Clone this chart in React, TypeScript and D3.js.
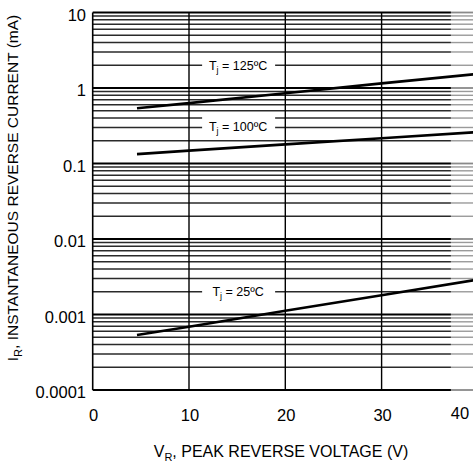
import { useEffect } from 'react';
import * as d3 from 'd3';

// reverse voltage (V) at which each curve was read
const voltage = [4.6, 10, 20, 30, 40];
// instantaneous reverse current (mA)
const current125 = [0.54, 0.63, 0.85, 1.15, 1.54];
const current100 = [0.133, 0.148, 0.179, 0.216, 0.261];
const current25 = [0.000535, 0.00069, 0.00112, 0.0018, 0.0029];

const curveLabels = ['125', '100', '25'];
const labelVoltage = [15.1, 15.1, 15.1];
const labelCurrent = [2.15, 0.33, 0.00215];

const xTicks = [0, 10, 20, 30, 40];
const decades = [0.0001, 0.001, 0.01, 0.1, 1, 10];
const decadeLabels = ['0.0001', '0.001', '0.01', '0.1', '1', '10'];

const W = 473;
const H = 463;
const font = 'Arial, "Liberation Sans", Helvetica, sans-serif';

export default function App() {
  useEffect(() => {
    document.body.style.margin = '0';
  }, []);

  const x = d3.scaleLinear().domain([0, 40]).range([92.7, 477.9]);
  const y = d3.scaleLog().domain([0.0001, 10]).range([390, 12.5]);

  const minor: number[] = [];
  decades.slice(0, -1).forEach((d) => {
    for (let k = 2; k <= 9; k++) minor.push(k * d);
  });

  const line = d3
    .line<number>()
    .x((_, i) => x(voltage[i]))
    .y((d) => y(d));

  const series = [current125, current100, current25];
  const fadeX = x(37.2);

  return (
    <svg width={W} height={H} style={{ display: 'block', background: '#fff' }} fontFamily={font}>
      {/* horizontal grid */}
      {minor.map((v) => (
        <g key={'m' + v}>
          <line x1={x(0)} x2={fadeX} y1={y(v)} y2={y(v)} stroke="#2a2a2a" strokeWidth={1.4} />
          <line x1={fadeX} x2={W} y1={y(v)} y2={y(v)} stroke="#9a9a9a" strokeWidth={1.4} />
        </g>
      ))}
      {decades.map((v) => (
        <g key={'d' + v}>
          <line x1={x(0)} x2={fadeX} y1={y(v)} y2={y(v)} stroke="#000" strokeWidth={1.8} />
          <line x1={fadeX} x2={W} y1={y(v)} y2={y(v)} stroke="#8a8a8a" strokeWidth={1.8} />
        </g>
      ))}
      {/* vertical grid */}
      {xTicks.map((t) => (
        <line
          key={'v' + t}
          x1={x(t)}
          x2={x(t)}
          y1={y(10)}
          y2={y(0.0001)}
          stroke="#000"
          strokeWidth={t === 0 ? 1.6 : 1.4}
        />
      ))}

      {/* curve labels with white boxes */}
      {curveLabels.map((c, i) => {
        const cx = x(labelVoltage[i]);
        const cy = y(labelCurrent[i]);
        return (
          <g key={'l' + c}>
            <rect x={cx - 36} y={cy - 9} width={73} height={20} fill="#fff" />
            <text x={cx} y={cy + 7} textAnchor="middle" fontSize={12.5} fill="#000">
              T
              <tspan fontSize={9} dy={3}>j</tspan>
              <tspan dy={-3}>{` = ${c}ºC`}</tspan>
            </text>
          </g>
        );
      })}

      {/* curves */}
      {series.map((s, i) => (
        <path key={'c' + i} d={line(s) || ''} fill="none" stroke="#000" strokeWidth={2.6} />
      ))}

      {/* y tick labels */}
      {decades.map((v, i) => (
        <text
          key={'yt' + v}
          x={86}
          y={y(v) + 4}
          textAnchor="end"
          dominantBaseline="middle"
          fontSize={16.5}
          fill="#000"
        >
          {decadeLabels[i]}
        </text>
      ))}

      {/* x tick labels */}
      {xTicks.map((t) => (
        <text
          key={'xt' + t}
          x={t === 40 ? x(t) - 18 : x(t) + 1}
          y={t === 40 ? 419 : 421}
          textAnchor="middle"
          fontSize={16.5}
          fill="#000"
        >
          {t}
        </text>
      ))}

      {/* axis titles */}
      <text x={281} y={457} textAnchor="middle" fontSize={16} fill="#000">
        V<tspan fontSize={11} dy={4}>R</tspan>
        <tspan dy={-4}>, PEAK REVERSE VOLTAGE (V)</tspan>
      </text>
      <text
        transform="translate(17.5,188) rotate(-90)"
        textAnchor="middle"
        fontSize={15.5}
        fill="#000"
      >
        I<tspan fontSize={11} dy={4}>R</tspan>
        <tspan dy={-4}>, INSTANTANEOUS REVERSE CURRENT (mA)</tspan>
      </text>
    </svg>
  );
}
